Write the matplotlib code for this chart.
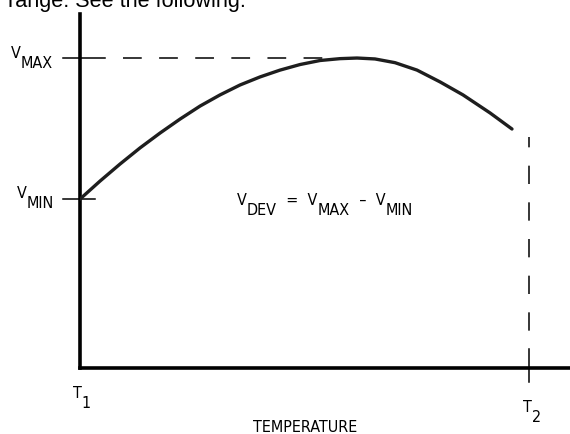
import matplotlib
matplotlib.use("Agg")
import matplotlib.pyplot as plt

# ======================================
# DATA (temperature in units of T2 - T1, voltage in units of VMAX)
# ======================================
temp = [0.000, 0.0445, 0.0891, 0.1336, 0.1782, 0.2227, 0.2673, 0.3118, 0.3563,
        0.4009, 0.4454, 0.4900, 0.5345, 0.5791, 0.6169, 0.6570, 0.7016, 0.7506,
        0.8018, 0.8530, 0.9131, 0.9621]
volt = [0.545, 0.603, 0.658, 0.710, 0.758, 0.803, 0.845, 0.881, 0.913,
        0.939, 0.961, 0.979, 0.992, 0.998, 1.000, 0.997, 0.985, 0.961,
        0.923, 0.881, 0.823, 0.771]

T1, T2 = 0.0, 1.0
V_MAX = max(volt)
V_MIN = volt[0]
T2_line_top = 0.745

lab_font = "DejaVu Sans"
plt.rcParams['lines.scale_dashes'] = False

# ======================================
# FIGURE
# ======================================
fig = plt.figure(figsize=(5.7, 4.35), dpi=100)
ax = fig.add_axes([0.1404, 0.1517, 0.8596, 0.8138])
ax.set_xlim(0, 1.0913)
ax.set_ylim(0, 1.142)

for side in ['top', 'right']:
    ax.spines[side].set_visible(False)
for side in ['left', 'bottom']:
    ax.spines[side].set_linewidth(2.6)
    ax.spines[side].set_color('black')
ax.set_xticks([])
ax.set_yticks([])

# curve
ax.plot(temp, volt, color='#1e1e1e', linewidth=2.4, solid_capstyle='round',
        solid_joinstyle='round', zorder=3)

# VMAX / VMIN ticks
ax.plot([-0.038, 0.056], [V_MAX, V_MAX], color='black', linewidth=1.1, clip_on=False)
ax.plot([-0.038, 0.034], [V_MIN, V_MIN], color='black', linewidth=1.1, clip_on=False)

# dashed VMAX level
ax.plot([0.096, temp[volt.index(V_MAX)]], [V_MAX, V_MAX], color='black',
        linewidth=1.1, linestyle=(0, (13.5, 12.5)), zorder=2)

# T2 dashed marker with crossing tick
ax.plot([T2, T2], [0.061, T2_line_top], color='black', linewidth=1.1,
        linestyle=(13.2, (13.2, 13.2)))
ax.plot([T2, T2], [-0.045, 0.061], color='black', linewidth=1.1, clip_on=False)


def label(x, y, parts, size=11.5):
    # chain main text and subscripts one after the other
    prev = None
    for s, sub in parts:
        dy = -7.2 if sub else 0
        if prev is None:
            t = ax.annotate(s, xy=(x, y), xycoords='data', xytext=(0, dy),
                            textcoords='offset points', ha='left', va='baseline',
                            fontsize=size, family=lab_font, fontstretch='condensed',
                            annotation_clip=False)
        else:
            t = ax.annotate(s, xy=(1, y), xycoords=(prev, 'data'), xytext=(0, dy),
                            textcoords='offset points', ha='left', va='baseline',
                            fontsize=size, family=lab_font, fontstretch='condensed',
                            annotation_clip=False)
        prev = t


label(-0.154, 1.003, [("V", 0), ("MAX", 1)])
label(-0.140, 0.552, [("V", 0), ("MIN", 1)])
label(0.350, 0.529, [("V", 0), ("DEV", 1), ("  =  V", 0), ("MAX", 1),
                     ("  \u2013  V", 0), ("MIN", 1)])
label(-0.0156, -0.0935, [("T", 0), ("1", 1)])
label(0.987, -0.139, [("T", 0), ("2", 1)])
ax.annotate("TEMPERATURE", xy=(0.502, -0.203), xycoords='data', ha='center',
            va='baseline', fontsize=11.5, family=lab_font, fontstretch='condensed',
            annotation_clip=False)

# cut-off line of text above the figure
fig.text(8 / 570, 1 - 7 / 435, "range. See the following:", ha='left', va='baseline',
         fontsize=15.6, family='Liberation Sans')

fig.savefig("out.png", dpi=100)
